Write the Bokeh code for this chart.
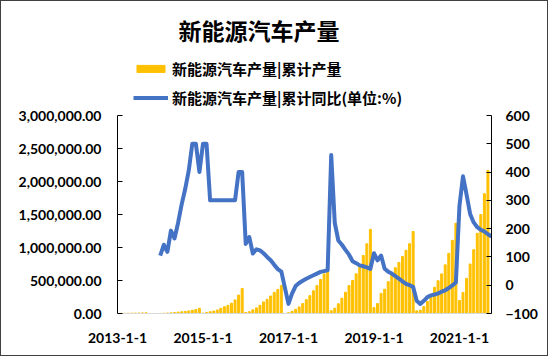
import math
from bokeh.plotting import figure
from bokeh.models import (ColumnDataSource, Range1d, LinearAxis, FixedTicker,
                          NumeralTickFormatter, Legend, LegendItem, Title)
from bokeh.embed import file_html
from bokeh.resources import INLINE

nan = float("nan")

# ---- data (monthly, cumulative production in units; cumulative YoY in %) ----
years = [2013, 2014, 2015, 2016, 2017, 2018, 2019, 2020, 2021]

production = {
    2013: [1000, 2000, 3000, 4200, 5500, 6800, 8000, 9300, 10800, nan, nan, nan],
    2014: [2100, 3800, 7100, 10500, 15200, 20500, 26300, 32000, 39400, 50200, 60600, 78500],
    2015: [6000, 16000, 27000, 38000, 53000, 78500, 102000, 123000, 156000, 206000, 279000, 379000],
    2016: [15000, 27000, 55000, 85000, 125000, 175000, 215000, 265000, 320000, 365000, 426000, nan],
    2017: [12000, 35000, 65000, 100000, 150000, 210000, 270000, 345000, 424000, 515000, 600000, 635000],
    2018: [42000, 80000, 147000, 232000, 323000, 424000, 500000, 601000, 702000, 879000, 1056000, 1275000],
    2019: [91000, 150000, 304000, 368000, 482000, 614000, 694000, 774000, 863000, 958000, 1058000, 1242000],
    2020: [40000, 50000, 104000, 183000, 266000, 397000, 497000, 600000, 737000, 911000, 1109000, 1366000],
    2021: [197000, 320000, 533000, 750000, 967000, 1215000, 1500000, 1815000, 2168000, nan, nan, nan],
}

yoy = {
    2013: [nan] * 12,
    2014: [105, 143, 118, 193, 165, 220, 285, 340, 405, 500, 500, 400],
    2015: [500, 500, 300, 300, 300, 300, 300, 300, 300, 300, 400, 400],
    2016: [146, 170, 112, 127, 123, 113, 100, 88, 72, 57, 48, nan],
    2017: [-66, -30, -3, 8, 16, 23, 29, 35, 41, 47, 50, 53],
    2018: [460, 220, 158, 143, 125, 108, 85, 78, 70, 67, 63, 58],
    2019: [113, 88, 105, 58, 48, 41, 32, 23, 14, 5, 0, -6],
    2020: [-55, -66, -55, -42, -36, -33, -29, -23, -18, -10, -1, 10],
    2021: [280, 385, 320, 252, 222, 205, 196, 190, 180, 172, nan, nan],
}

tick_years = [2013, 2015, 2017, 2019, 2021]
tick_labels = ["2013-1-1", "2015-1-1", "2017-1-1", "2019-1-1", "2021-1-1"]
left_ticks = [0, 500000, 1000000, 1500000, 2000000, 2500000, 3000000]
right_ticks = [-100, 0, 100, 200, 300, 400, 500, 600]

bar_name = "新能源汽车产量|累计产量"
line_name = "新能源汽车产量|累计同比(单位:%)"
title_text = "新能源汽车产量"

# ---- build sources ----
bx, by, lx, ly = [], [], [], []
for yi, yr in enumerate(years):
    for mi in range(12):
        m = yi * 12 + mi
        v = production[yr][mi]
        if not math.isnan(v):
            bx.append(m); by.append(v)
        r = yoy[yr][mi]
        if not math.isnan(r):
            lx.append(m); ly.append(r)

bar_src = ColumnDataSource(dict(x=bx, top=by))
line_src = ColumnDataSource(dict(x=lx, y=ly))

FONT = "Lato"
CJK = "Noto Sans CJK SC"

# layout (pixels, inside a 1px page border): axes span 198 px; the frame is
# extended upward to hold the legend
W, H = 548, 356
AXIS_PX = 198
FRAME_TOP, FRAME_BOTTOM = 51, 312
FRAME_LEFT, FRAME_RIGHT = 116, 490
frame_px = FRAME_BOTTOM - FRAME_TOP
l0, l1 = left_ticks[0], left_ticks[-1]
r0, r1 = right_ticks[0], right_ticks[-1]
left_end = l0 + (l1 - l0) * frame_px / AXIS_PX
right_end = r0 + (r1 - r0) * frame_px / AXIS_PX

p = figure(width=W, height=H, output_backend="svg", toolbar_location=None,
           x_range=Range1d(0, 105), y_range=Range1d(l0, left_end),
           min_border_left=FRAME_LEFT, min_border_right=W - FRAME_RIGHT,
           min_border_top=FRAME_TOP, min_border_bottom=H - FRAME_BOTTOM,
           title=None)
p.extra_y_ranges = {"pct": Range1d(r0, right_end)}
p.outline_line_color = None
p.xgrid.visible = False
p.ygrid.visible = False
p.background_fill_color = "white"
p.border_fill_color = "white"

bars = p.vbar(x="x", top="top", width=0.55, source=bar_src, color="#FFC000")
line = p.line(x="x", y="y", source=line_src, y_range_name="pct",
              line_color="#4472C4", line_width=4, line_join="round")

# x axis
xa = p.xaxis[0]
xa.ticker = FixedTicker(ticks=[(y - years[0]) * 12 for y in tick_years])
xa.major_label_overrides = {(y - years[0]) * 12: lab for y, lab in zip(tick_years, tick_labels)}
xa.major_tick_line_color = None
xa.minor_tick_line_color = None
xa.axis_line_color = "#D9D9D9"
xa.major_label_standoff = 13
xa.major_label_text_font = FONT
xa.major_label_text_font_style = "bold"
xa.major_label_text_font_size = "14px"
xa.major_label_text_color = "black"

# left axis
ya = p.yaxis[0]
ya.ticker = FixedTicker(ticks=left_ticks)
ya.bounds = (l0, l1)
ya.formatter = NumeralTickFormatter(format="0,0.00")
ya.major_tick_in = 5
ya.major_tick_out = 0
ya.minor_tick_line_color = None
ya.axis_line_color = "black"
ya.major_tick_line_color = "black"
ya.major_label_standoff = 16
ya.major_label_text_font = FONT
ya.major_label_text_font_style = "bold"
ya.major_label_text_font_size = "14px"
ya.major_label_text_color = "black"

# right axis
ra = LinearAxis(y_range_name="pct", ticker=FixedTicker(ticks=right_ticks))
ra.bounds = (r0, r1)
ra.major_tick_in = 5
ra.major_tick_out = 0
ra.minor_tick_line_color = None
ra.axis_line_color = "black"
ra.major_tick_line_color = "black"
ra.major_label_standoff = 14
ra.major_label_text_font = FONT
ra.major_label_text_font_style = "bold"
ra.major_label_text_font_size = "14px"
ra.major_label_text_color = "black"
p.add_layout(ra, "right")

legend = Legend(items=[LegendItem(label=bar_name, renderers=[bars]),
                       LegendItem(label=line_name, renderers=[line])],
                orientation="vertical", location=(16, FRAME_BOTTOM - 107),
                label_text_font=CJK, label_text_font_size="15px",
                label_text_font_style="bold",
                label_text_color="black", label_height=20, glyph_height=9,
                glyph_width=35, label_standoff=4, spacing=8,
                padding=0, margin=0, border_line_color=None,
                background_fill_alpha=0)
p.add_layout(legend, "center")

title = Title(text=title_text, align="left", offset=61, standoff=12,
              text_font=CJK, text_font_size="23px", text_font_style="bold",
              text_color="black")
p.add_layout(title, "above")

p.styles = {"border": "1px solid #404040"}

open("out.html", "w").write(file_html(p, INLINE))
